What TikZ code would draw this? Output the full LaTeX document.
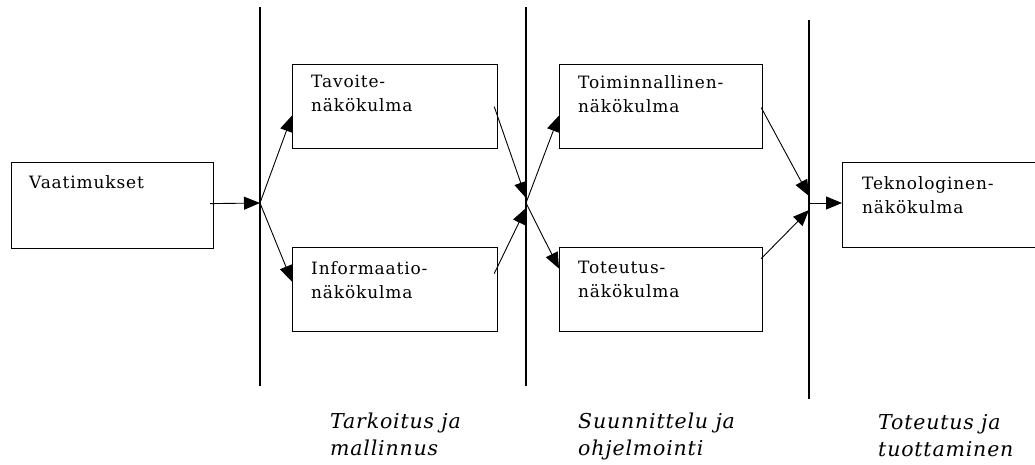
\documentclass[tikz,border=0pt]{standalone}
\usepackage{fontspec}
\setmainfont{DejaVu Serif}
\newfontfamily\boxfont[LetterSpace=5]{DejaVu Serif}
\newfontfamily\phasefont[LetterSpace=4]{DejaVu Serif}
\usetikzlibrary{calc,arrows.meta}
\tikzset{view/.style={%
  draw,
  line width=1.2pt,
  anchor=north west,
  inner sep=0pt,
  minimum height=84,
  }
}
\tikzset{viewtext/.style={%
  anchor=north west,
  inner sep=0pt,
  align=left,
  font=\boxfont\fontsize{17}{24}\selectfont,
  }
}
\tikzset{phase/.style={%
  anchor=north west,
  inner sep=0pt,
  align=left,
  font=\phasefont\itshape\fontsize{20.5}{27}\selectfont,
  }
}
\tikzset{link/.style={%
  -{Triangle[length=16pt,width=13pt]},
  line width=0.9pt,
  }
}
\tikzset{border/.style={line width=1.3pt}}

\begin{document}
\begin{tikzpicture}[x=1pt,y=-1pt]
  \useasboundingbox (0,0) rectangle (1035,464);
  \clip (0,0) rectangle (1035,464);

  % vaiheiden rajat
  \coordinate (raja1a) at (260,7);
  \coordinate (raja1b) at (260,386);
  \coordinate (raja2a) at (526,7);
  \coordinate (raja2b) at (526,386);
  \coordinate (raja3a) at (809,20);
  \coordinate (raja3b) at (809,399);
  \draw [border] (raja1a) -- (raja1b);
  \draw [border] (raja2a) -- (raja2b);
  \draw [border] (raja3a) -- (raja3b);

  \coordinate (j1) at (260,203);
  \coordinate (j2) at (526,203);
  \coordinate (j3) at (809,203);

  % nakokulmat
  \node (vaatimukset) [view, minimum width=202, minimum height=86] at (11,162) {};
  \node (tavoite) [view, minimum width=205] at (292,64) {};
  \node (informaatio) [view, minimum width=205] at (292,247) {};
  \node (toiminnallinen) [view, minimum width=203] at (559,64) {};
  \node (toteutus) [view, minimum width=203] at (559,247) {};
  \node (teknologinen) [view, minimum width=210, minimum height=85] at (842,162) {};

  \node (vaatimuksetT) [viewtext] at ($(vaatimukset.north west)+(18,13)$) {Vaatimukset};
  \node (tavoiteT) [viewtext] at ($(tavoite.north west)+(19,11)$) {Tavoite-\\näkökulma};
  \node (informaatioT) [viewtext] at ($(informaatio.north west)+(19,14)$) {Informaatio-\\näkökulma};
  \node (toiminnallinenT) [viewtext] at ($(toiminnallinen.north west)+(19,11)$) {Toiminnallinen-\\näkökulma};
  \node (toteutusT) [viewtext] at ($(toteutus.north west)+(19,14)$) {Toteutus-\\näkökulma};
  \node (teknologinenT) [viewtext] at ($(teknologinen.north west)+(20,14)$) {Teknologinen-\\näkökulma};

  % vaiheet
  \node (tarkoitus) [phase] at (330,413) {Tarkoitus ja\\mallinnus};
  \node (suunnittelu) [phase] at (578,413) {Suunnittelu ja\\ohjelmointi};
  \node (tuottaminen) [phase] at (878,414) {Toteutus ja\\tuottaminen};

  % nuolet
  \draw [link] ($(vaatimukset.east)+(-4,-2)$) -- (j1);
  \draw [link] (j1) -- ($(tavoite.west)+(0,9)$);
  \draw [link] (j1) -- ($(informaatio.west)+(0,-8)$);
  \draw [link] ($(tavoite.east)+(-4,0)$) -- ($(j2)+(0,-5)$);
  \draw [link] ($(informaatio.east)+(-4,-16)$) -- ($(j2)+(0,5)$);
  \draw [link] (j2) -- ($(toiminnallinen.west)+(0,9)$);
  \draw [link] (j2) -- ($(toteutus.west)+(0,-21)$);
  \draw [link] ($(toiminnallinen.east)+(-2,1)$) -- ($(j3)+(0,-7)$);
  \draw [link] ($(toteutus.east)+(-2,-31)$) -- ($(j3)+(0,7)$);
  \draw [link] (j3) -- (j3 -| teknologinen.west);
\end{tikzpicture}
\end{document}
